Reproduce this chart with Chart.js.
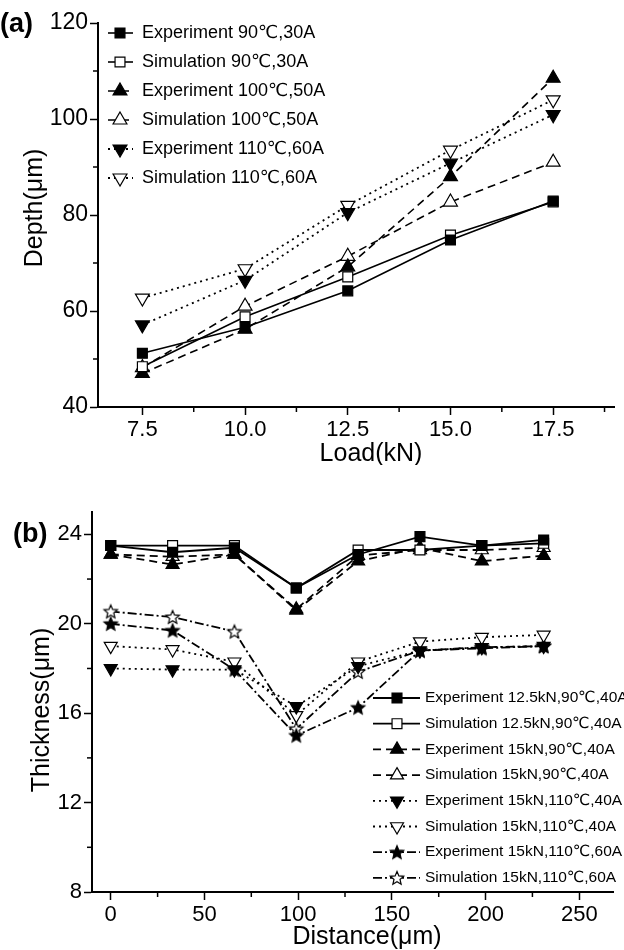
<!DOCTYPE html>
<html>
<head>
<meta charset="utf-8">
<script src="https://cdn.jsdelivr.net/npm/chart.js@4/dist/chart.umd.min.js"></script>
<style>
  html, body { margin: 0; padding: 0; background: #fff; overflow: hidden; }
  #ca { position: absolute; left: 0; top: 0; }
  #cb { position: absolute; left: 0; top: 465px; }
</style>
</head>
<body>
<canvas id="ca" width="624" height="465"></canvas>
<canvas id="cb" width="624" height="485"></canvas>
<script>
// ---------------- Panel (a) data ----------------
const loadKN = [7.5, 10.0, 12.5, 15.0, 17.5];
const exp90_30A  = [51.2, 56.6, 64.2, 74.8, 82.9];
const sim90_30A  = [48.4, 58.8, 67.1, 75.8, 82.7];
const exp100_50A = [47.0, 56.2, 69.2, 88.0, 108.5];
const sim100_50A = [48.2, 61.0, 71.4, 82.7, 91.0];
const exp110_60A = [57.1, 66.4, 80.5, 90.8, 100.9];
const sim110_60A = [62.7, 68.8, 82.0, 93.5, 104.0];
const labelsA = ['Experiment 90\u2103,30A', 'Simulation 90\u2103,30A', 'Experiment 100\u2103,50A',
                 'Simulation 100\u2103,50A', 'Experiment 110\u2103,60A', 'Simulation 110\u2103,60A'];
const loadTicks = [7.5, 10.0, 12.5, 15.0, 17.5];
const loadMinor = [8.75, 11.25, 13.75, 16.25, 18.75];
const depthTicks = [40, 60, 80, 100, 120];
const depthMinor = [50, 70, 90, 110];

// ---------------- Panel (b) data ----------------
const distance = [0, 33, 66, 99, 132, 165, 198, 231];
const exp125_90_40 = [23.5, 23.2, 23.4, 21.6, 23.1, 23.9, 23.5, 23.75];
const sim125_90_40 = [23.5, 23.5, 23.5, 21.6, 23.3, 23.3, 23.5, 23.6];
const exp15_90_40  = [23.1, 22.65, 23.1, 20.6, 22.8, 23.4, 22.8, 23.05];
const sim15_90_40  = [23.1, 23.0, 23.1, 20.65, 23.05, 23.3, 23.3, 23.4];
const exp15_110_40 = [18.0, 17.95, 17.95, 16.3, 18.1, 18.8, 18.95, 19.0];
const sim15_110_40 = [19.0, 18.85, 18.3, 15.9, 18.3, 19.2, 19.4, 19.5];
const exp15_110_60 = [20.0, 19.7, 17.95, 15.0, 16.25, 18.8, 18.9, 19.0];
const sim15_110_60 = [20.55, 20.3, 19.65, 15.3, 17.85, 18.8, 18.95, 19.0];
const labelsB = ['Experiment 12.5kN,90\u2103,40A', 'Simulation 12.5kN,90\u2103,40A',
                 'Experiment 15kN,90\u2103,40A', 'Simulation 15kN,90\u2103,40A',
                 'Experiment 15kN,110\u2103,40A', 'Simulation 15kN,110\u2103,40A',
                 'Experiment 15kN,110\u2103,60A', 'Simulation 15kN,110\u2103,60A'];
const distTicks = [0, 50, 100, 150, 200, 250];
const distMinor = [25, 75, 125, 175, 225];
const thickTicks = [8, 12, 16, 20, 24];
const thickMinor = [10, 14, 18, 22];

// ---------------- styling helpers ----------------
const FONT = "'Liberation Sans', Arial, 'DejaVu Sans', sans-serif";
const SOLID = [], DASH = [8, 5], DOT = [2, 4], DASHDOT = [9, 3, 2, 3];

function makeStar(fill, r) {
  const s = Math.ceil(r * 2 + 4);
  const c = document.createElement('canvas');
  c.width = s; c.height = s;
  const g = c.getContext('2d');
  g.beginPath();
  for (let k = 0; k < 10; k++) {
    const rad = (k % 2 === 0) ? r : r * 0.45;
    const a = -Math.PI / 2 + k * Math.PI / 5;
    g.lineTo(s / 2 + rad * Math.cos(a), s / 2 + 0.5 + rad * Math.sin(a));
  }
  g.closePath();
  g.fillStyle = fill; g.fill();
  g.lineWidth = 1.2; g.strokeStyle = '#000'; g.stroke();
  return c;
}
const starFilled = makeStar('#000', 7);
const starOpen = makeStar('#fff', 7);

function series(xs, ys, label, dash, style, filled, rot, radius, lw) {
  return {
    label: label,
    data: xs.map((x, i) => ({ x: x, y: ys[i] })),
    borderColor: '#000', borderWidth: lw, borderDash: dash,
    pointStyle: style, pointRotation: rot, pointRadius: radius,
    pointBackgroundColor: filled ? '#000' : '#fff',
    pointBorderColor: '#000', pointBorderWidth: 1.2,
    fill: false, tension: 0, showLine: true
  };
}

function drawMarker(ctx, d, x, y) {
  if (Chart.helpers && Chart.helpers.drawPoint) {
    Chart.helpers.drawPoint(ctx, { pointStyle: d.pointStyle, rotation: d.pointRotation || 0,
      radius: d.pointRadius, borderWidth: d.pointBorderWidth }, x, y);
  }
}

function makeDecor(cfg) {
  return {
    id: 'decor' + cfg.id,
    afterDraw(chart) {
      const ctx = chart.ctx;
      const xs = chart.scales.x, ys = chart.scales.y;
      ctx.save();
      // minor ticks
      ctx.strokeStyle = '#000'; ctx.lineWidth = 1.5; ctx.setLineDash([]);
      cfg.xMinor.forEach(v => {
        const px = xs.getPixelForValue(v);
        ctx.beginPath(); ctx.moveTo(px, xs.top); ctx.lineTo(px, xs.top + 5); ctx.stroke();
      });
      cfg.yMinor.forEach(v => {
        const py = ys.getPixelForValue(v);
        ctx.beginPath(); ctx.moveTo(ys.right, py); ctx.lineTo(ys.right - 5, py); ctx.stroke();
      });
      // legend
      const L = cfg.legend;
      chart.data.datasets.forEach((d, i) => {
        const y = L.y0 + i * L.dy;
        ctx.setLineDash(d.borderDash || []);
        ctx.lineWidth = d.borderWidth; ctx.strokeStyle = '#000';
        ctx.beginPath(); ctx.moveTo(L.x0, y); ctx.lineTo(L.x1, y); ctx.stroke();
        ctx.setLineDash([]);
        ctx.fillStyle = d.pointBackgroundColor; ctx.strokeStyle = '#000'; ctx.lineWidth = d.pointBorderWidth;
        drawMarker(ctx, d, L.xm, y);
        ctx.fillStyle = '#000'; ctx.font = L.font; ctx.textBaseline = 'middle'; ctx.textAlign = 'left';
        ctx.fillText(d.label, L.xt, y);
      });
      // panel label
      ctx.fillStyle = '#000';
      ctx.font = 'bold 27px ' + FONT; ctx.textAlign = 'left'; ctx.textBaseline = 'middle';
      ctx.fillText(cfg.panel, cfg.panelX, cfg.panelY);
      // axis titles
      ctx.font = '25px ' + FONT; ctx.textAlign = 'center'; ctx.textBaseline = 'middle';
      ctx.fillText(cfg.xTitle, cfg.xTitleX, cfg.xTitleY);
      ctx.save();
      ctx.translate(cfg.yTitleX, cfg.yTitleY); ctx.rotate(-Math.PI / 2);
      ctx.fillText(cfg.yTitle, 0, 0);
      ctx.restore();
      ctx.restore();
    }
  };
}

function axis(min, max, tickVals, fmt, fitFn, fsize) {
  return {
    type: 'linear', min: min, max: max,
    afterBuildTicks: s => { s.ticks = tickVals.map(v => ({ value: v })); },
    afterFit: fitFn,
    ticks: { callback: fmt, color: '#000', font: { family: FONT, size: fsize }, padding: 2,
             maxRotation: 0, autoSkip: false },
    grid: { drawOnChartArea: false, drawTicks: true, tickLength: 8, tickColor: '#000', tickWidth: 1.5 },
    border: { display: true, color: '#000', width: 2 }
  };
}

// ---------------- Chart (a) ----------------
const dsA = [
  series(loadKN, exp90_30A,  labelsA[0], SOLID, 'rect', true, 0, 7, 1.6),
  series(loadKN, sim90_30A,  labelsA[1], SOLID, 'rect', false, 0, 7, 1.6),
  series(loadKN, exp100_50A, labelsA[2], DASH, 'triangle', true, 0, 8, 1.6),
  series(loadKN, sim100_50A, labelsA[3], DASH, 'triangle', false, 0, 8, 1.6),
  series(loadKN, exp110_60A, labelsA[4], DOT, 'triangle', true, 180, 8, 1.8),
  series(loadKN, sim110_60A, labelsA[5], DOT, 'triangle', false, 180, 8, 1.8)
];
new Chart(document.getElementById('ca'), {
  type: 'line',
  data: { datasets: dsA },
  options: {
    responsive: false, animation: false,
    layout: { padding: { left: 0, right: 3, top: 23, bottom: 0 } },
    plugins: { legend: { display: false }, tooltip: { enabled: false } },
    scales: {
      x: axis(6.42, 19.0, loadTicks, v => Number(v).toFixed(1), s => { s.height = 58; }, 22),
      y: axis(40, 120, depthTicks, v => String(v), s => { s.width = 98; }, 23)
    }
  },
  plugins: [makeDecor({
    id: 'a', xMinor: loadMinor, yMinor: depthMinor,
    legend: { x0: 108, x1: 133, xm: 120, xt: 142, y0: 33, dy: 29, font: '18px ' + FONT },
    panel: '(a)', panelX: 0, panelY: 25,
    xTitle: 'Load(kN)', xTitleX: 371, xTitleY: 454,
    yTitle: 'Depth(\u03bcm)', yTitleX: 35, yTitleY: 208
  })]
});

// ---------------- Chart (b) ----------------
const dsB = [
  series(distance, exp125_90_40, labelsB[0], SOLID, 'rect', true, 0, 7, 1.8),
  series(distance, sim125_90_40, labelsB[1], SOLID, 'rect', false, 0, 7, 1.8),
  series(distance, exp15_90_40,  labelsB[2], DASH, 'triangle', true, 0, 7.5, 1.8),
  series(distance, sim15_90_40,  labelsB[3], DASH, 'triangle', false, 0, 7.5, 1.8),
  series(distance, exp15_110_40, labelsB[4], DOT, 'triangle', true, 180, 7.5, 1.8),
  series(distance, sim15_110_40, labelsB[5], DOT, 'triangle', false, 180, 7.5, 1.8),
  series(distance, exp15_110_60, labelsB[6], DASHDOT, starFilled, true, 0, 7, 1.8),
  series(distance, sim15_110_60, labelsB[7], DASHDOT, starOpen, false, 0, 7, 1.8)
];
new Chart(document.getElementById('cb'), {
  type: 'line',
  data: { datasets: dsB },
  options: {
    responsive: false, animation: false,
    layout: { padding: { left: 0, right: 11, top: 47, bottom: 0 } },
    plugins: { legend: { display: false }, tooltip: { enabled: false } },
    scales: {
      x: axis(-10, 268, distTicks, v => String(v), s => { s.height = 58; }, 22),
      y: axis(8, 25, thickTicks, v => String(v), s => { s.width = 92; }, 22)
    }
  },
  plugins: [makeDecor({
    id: 'b', xMinor: distMinor, yMinor: thickMinor,
    legend: { x0: 373, x1: 420, xm: 397, xt: 425, y0: 233, dy: 25.7, font: '15.5px ' + FONT },
    panel: '(b)', panelX: 13, panelY: 70,
    xTitle: 'Distance(\u03bcm)', xTitleX: 367, xTitleY: 472,
    yTitle: 'Thickness(\u03bcm)', yTitleX: 42, yTitleY: 245
  })]
});
</script>
</body>
</html>
